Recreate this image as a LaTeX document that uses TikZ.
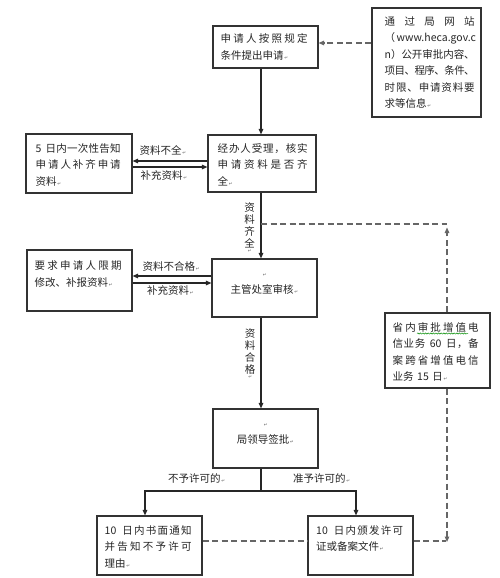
\documentclass[tikz,border=0pt]{standalone}
\usepackage{fontspec}
\setmainfont{Noto Sans CJK SC}
\newfontfamily\djv{DejaVu Sans}
\usetikzlibrary{arrows.meta,decorations.pathmorphing}
\makeatletter
\def\jlendmark{\jlend}
\newcommand\jl[1]{\makebox[\hsize][s]{\jl@first#1\jlend}}
\def\jl@first#1{#1\jl@next}
\def\jl@next#1{\def\jl@tmp{#1}\ifx\jl@tmp\jlendmark\else\hskip0pt plus 1fil minus 1pt#1\expandafter\jl@next\fi}
\makeatother
\newcommand\pmk{{\djv\fontsize{4.5}{5}\selectfont\color{black!60}\,↵}}
\begin{document}
\begin{tikzpicture}[x=1pt,y=-1pt,
  box/.style={draw=black!80, line width=1.1pt, inner sep=0pt, fill=white},
  tx/.style={anchor=north west, inner sep=0pt, text width=#1, align=left,
    font=\fontsize{10.5}{16.5}\selectfont, text=black!85},
  ctx/.style={anchor=north, inner sep=0pt, align=center,
    font=\fontsize{10.5}{16.5}\selectfont, text=black!85},
  lbl/.style={inner sep=0pt, font=\fontsize{10.5}{12}\selectfont, text=black!85},
  tip/.style={-{Triangle[length=5.5pt,width=4.5pt]}},
  ln/.style={draw=black!85, line width=1.1pt},
  arr/.style={ln, tip},
  dsh/.style={draw=black!60, line width=1.1pt, dash pattern=on 6pt off 3.5pt}]
\fill[white] (0,0) rectangle (500,578);
\useasboundingbox (0,0) rectangle (500,578);

% helper coordinates
\coordinate (v261) at (261,0);
\coordinate (h43) at (0,43);
\coordinate (h161) at (0,161);
\coordinate (h167) at (0,167);
\coordinate (h276) at (0,276);
\coordinate (h283) at (0,283);
\coordinate (h541) at (0,541);

% boxes
\node[box, minimum width=105pt, minimum height=42pt] (A) at (265.5,47) {};
\node[box, minimum width=109pt, minimum height=109pt] (Info) at (426.5,62.5) {};
\node[box, minimum width=108pt, minimum height=57pt] (B) at (262,163.5) {};
\node[box, minimum width=106pt, minimum height=59pt] (C) at (79,163.5) {};
\node[box, minimum width=105pt, minimum height=58pt] (D) at (264.5,288) {};
\node[box, minimum width=105pt, minimum height=61pt] (E) at (79.5,280.5) {};
\node[box, minimum width=105pt, minimum height=59pt] (F) at (265.5,438.5) {};
\node[box, minimum width=105pt, minimum height=59pt] (G) at (149.5,545.5) {};
\node[box, minimum width=105pt, minimum height=59pt] (H) at (360.5,545.5) {};
\node[box, minimum width=105pt, minimum height=75pt] (I) at (437.5,350.5) {};

% box texts
\node[tx=87pt] (At) at (220.5,31) {\strut\jl{申请人按照规定}\\条件提出申请\pmk};
\node[tx=90pt] (Infot) at (384.5,13.5) {\strut\jl{通过局网站}\\\jl{（\ {www.heca.gov.c}}\\\jl{{n）}公开审批内容、}\\\jl{项目、程序、条件、}\\\jl{时限、申请资料要}\\求等信息\pmk};
\node[tx=90pt] (Bt) at (217.5,140.5) {\strut\jl{经办人受理，核实}\\\jl{申请资料是否齐}\\全\pmk};
\node[tx=85pt] (Ct) at (35.5,140.5) {\strut\jl{5\ 日内一次性告知}\\\jl{申请人补齐申请}\\资料\pmk};
\node[ctx] (Dt) at (264.5,265) {\strut\pmk\\主管处室审核\pmk};
\node[tx=87pt] (Et) at (34.5,258) {\strut\jl{要求申请人限期}\\修改、补报资料\pmk};
\node[ctx] (Ft) at (265.5,415) {\strut\pmk\\局领导签批\pmk};
\node[tx=87pt] (Gt) at (104.5,522.5) {\strut\jl{{10}\ 日内书面通知}\\\jl{并告知不予许可}\\理由\pmk};
\node[tx=87pt] (Ht) at (316,522.5) {\strut\jl{{10}\ 日内颁发许可}\\证或备案文件\pmk};
\node[tx=86pt] (It) at (392.5,319.5) {\strut\jl{省内审批增值电}\\\jl{信业务\ {60}\ 日，备}\\\jl{案跨省增值电信}\\业务 15 日\pmk};
\draw[green!55!black, line width=0.5pt, decorate,
  decoration={snake, amplitude=0.6pt, segment length=2.6pt}] (417,333.5) -- (468,333.5);

% main connectors
\draw[dsh, tip] (Info.west |- h43) -- (A.east |- h43);
\draw[arr] (A.south -| v261) -- (B.north -| v261);
\draw[arr] (B.west |- h161) -- (C.east |- h161);
\draw[arr] (C.east |- h167) -- (B.west |- h167);
\draw[arr] (B.south -| v261) -- (D.north -| v261);
\draw[arr] (D.west |- h276) -- (E.east |- h276);
\draw[arr] (E.east |- h283) -- (D.west |- h283);
\draw[arr] (D.south -| v261) -- (F.north -| v261);
\coordinate (br) at (261,491);
\coordinate (bL) at (145,491);
\coordinate (bR) at (356,491);
\draw[ln] (F.south -| v261) -- (br);
\draw[arr] (br) -- (bL) -- (G.north -| bL);
\draw[arr] (br) -- (bR) -- (H.north -| bR);

% dashed connectors
\draw[dsh] (G.east |- h541) -- (H.west |- h541);
\coordinate (j1) at (261,224);
\coordinate (j2) at (447,224);
\coordinate (j3) at (447,227.5);
\coordinate (j4) at (447,542);
\coordinate (j5) at (446,541);
\draw[dsh] (j1) -- (j2);
\draw[dsh, tip] (I.north -| j3) -- (j3);
\draw[dsh, tip] (I.south -| j4) -- (j4);
\draw[dsh] (H.east |- h541) -- (j5);

% labels
\node[lbl, anchor=west] (l1) at (139.5,150) {资料不全\pmk};
\node[lbl, anchor=west] (l2) at (140.5,175) {补充资料\pmk};
\node[lbl, anchor=west] (l3) at (142.5,267) {资料不合格\pmk};
\node[lbl, anchor=west] (l4) at (147,290.5) {补充资料\pmk};
\node[lbl, anchor=west] (l5) at (168,478) {不予许可的\pmk};
\node[lbl, anchor=west] (l6) at (293,478) {准予许可的\pmk};
\node[lbl, anchor=north, align=center] (l7) at (249.5,202.3) {资\\料\\齐\\全\\[-7pt]\pmk};
\node[lbl, anchor=north, align=center] (l8) at (250,328.5) {资\\料\\合\\格\\[-7pt]\pmk};
\end{tikzpicture}
\end{document}
